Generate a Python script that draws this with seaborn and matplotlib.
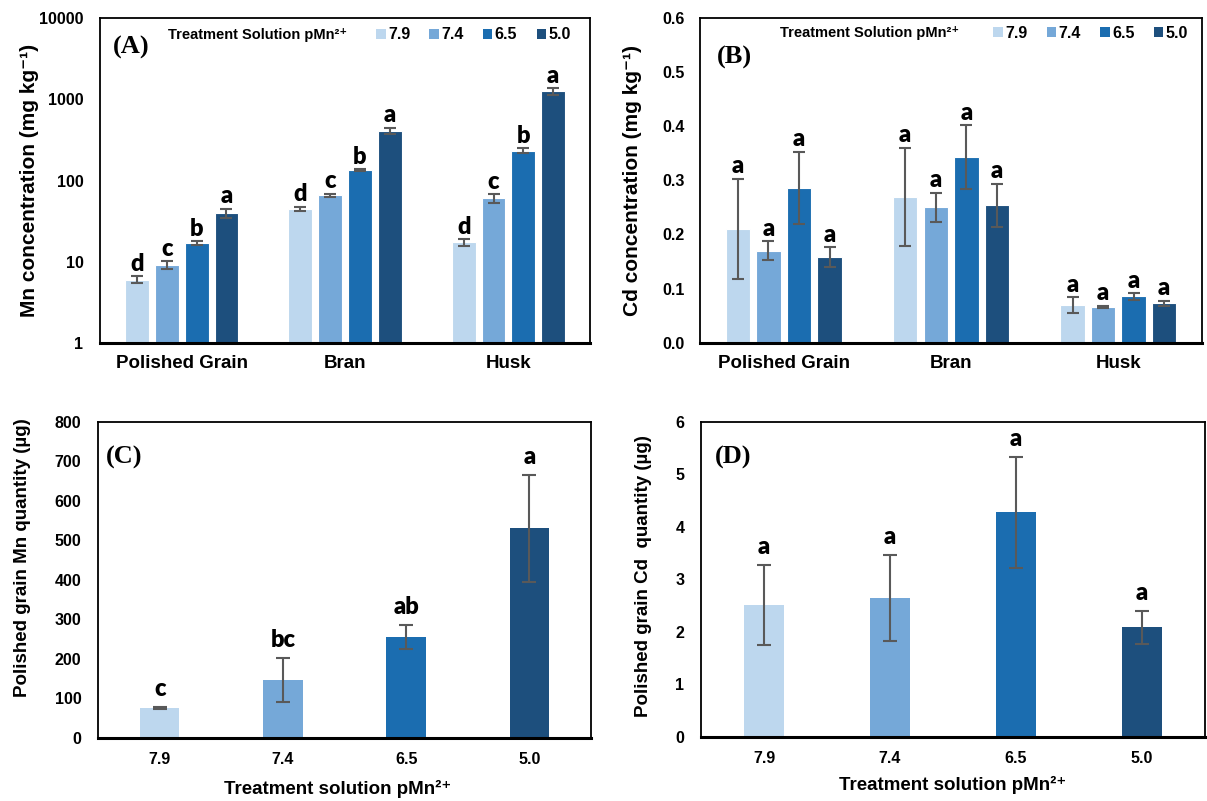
import numpy as np
import pandas as pd
import matplotlib
matplotlib.use("Agg")
import matplotlib.pyplot as plt
import seaborn as sns
from matplotlib.patches import Patch
from matplotlib.ticker import LogLocator, NullFormatter, FormatStrFormatter, MultipleLocator

# ---------------- data ----------------
tissues = ["Polished Grain", "Bran", "Husk"]
pmn = ["7.9", "7.4", "6.5", "5.0"]
colors = ["#BDD7EE", "#75A8D8", "#1B6DB0", "#1D4F7D"]

# (A) Mn concentration (mg/kg), per tissue across pMn levels
mn_pg = [6.0, 9.2, 17.0, 39.8]
mn_pg_sd = [0.6, 1.0, 0.8, 5.0]
mn_bran = [44.7, 65.8, 135.0, 409.0]
mn_bran_sd = [3.0, 3.0, 3.0, 40.0]
mn_husk = [17.3, 60.4, 233.0, 1250.0]
mn_husk_sd = [1.8, 7.0, 15.0, 110.0]
mn_letters = [["d", "c", "b", "a"], ["d", "c", "b", "a"], ["d", "c", "b", "a"]]

# (B) Cd concentration (mg/kg)
cd_pg = [0.210, 0.170, 0.286, 0.158]
cd_pg_sd = [0.093, 0.018, 0.067, 0.019]
cd_bran = [0.269, 0.250, 0.343, 0.254]
cd_bran_sd = [0.091, 0.027, 0.059, 0.040]
cd_husk = [0.0695, 0.0665, 0.0855, 0.0726]
cd_husk_sd = [0.014, 0.002, 0.006, 0.005]
cd_letters = [["a"] * 4, ["a"] * 4, ["a"] * 4]

# (C) polished grain Mn quantity (ug)
grain_mn = [76, 147, 256, 531]
grain_mn_sd = [3, 55, 30, 135]
grain_mn_letters = ["c", "bc", "ab", "a"]

# (D) polished grain Cd quantity (ug)
grain_cd = [2.51, 2.64, 4.28, 2.09]
grain_cd_sd = [0.765, 0.82, 1.06, 0.31]
grain_cd_letters = ["a", "a", "a", "a"]

# ---------------- style ----------------
sns.set_theme(style="white")
plt.rcParams["font.family"] = ["Liberation Sans", "DejaVu Sans"]
plt.rcParams["font.weight"] = "bold"
for key in ("text.color", "axes.labelcolor", "xtick.color", "ytick.color"):
    plt.rcParams[key] = "black"

ERR_COLOR = "#595959"
LETTER_FONT = dict(family=["Lato", "DejaVu Sans"], weight="heavy", size=17, color="black")

fig = plt.figure(figsize=(12.07, 8.01), dpi=100)
axA = fig.add_axes([0.0829, 0.5718, 0.4060, 0.4057])
axB = fig.add_axes([0.5800, 0.5722, 0.4159, 0.4053])
axC = fig.add_axes([0.0812, 0.0787, 0.4085, 0.3945])
axD = fig.add_axes([0.5808, 0.0799, 0.4176, 0.3933])


def long_df(series, sds, letters):
    rows = []
    for t, vals, s, l in zip(tissues, series, sds, letters):
        for p, v, e, lab in zip(pmn, vals, s, l):
            rows.append(dict(tissue=t, pMn=p, value=v, sd=e, letter=lab))
    return pd.DataFrame(rows)


def style_spines(ax):
    for side in ["top", "right", "left"]:
        ax.spines[side].set_linewidth(1.3)
        ax.spines[side].set_color("black")
    ax.spines["bottom"].set_linewidth(2.2)
    ax.spines["bottom"].set_color("black")


def grouped_panel(ax, df, log, letter_off, capsize):
    sns.barplot(data=df, x="tissue", y="value", hue="pMn", order=tissues,
                hue_order=pmn, palette=colors, width=0.73, gap=0.2,
                errorbar=None, legend=False, ax=ax, edgecolor="white",
                linewidth=0.8, log_scale=(True if log else None), saturation=1)
    conts = list(ax.containers)
    for i, cont in enumerate(conts):
        sub = df[df.pMn == pmn[i]].set_index("tissue").loc[tissues]
        for bar, (t, row) in zip(cont, sub.iterrows()):
            x = bar.get_x() + bar.get_width() / 2
            ax.errorbar(x, row.value, yerr=row.sd, color=ERR_COLOR, lw=1.5,
                        capsize=capsize, capthick=1.5, fmt="none", zorder=5)
            ax.annotate(row.letter, (x, row.value + row.sd), xytext=(0, letter_off),
                        textcoords="offset points", ha="center", va="bottom",
                        **LETTER_FONT)
    ax.set_xlim(-0.5, 2.5)
    ax.set_xlabel("")
    ax.tick_params(axis="x", length=0, pad=9, labelsize=13.5)
    style_spines(ax)


def single_panel(ax, values, sds, letters, letter_off):
    df = pd.DataFrame(dict(pMn=pmn, value=values, sd=sds, letter=letters))
    sns.barplot(data=df, x="pMn", y="value", hue="pMn", order=pmn, hue_order=pmn,
                palette=colors, width=0.32, errorbar=None, legend=False, ax=ax,
                saturation=1, linewidth=0)
    bars = list(ax.patches)
    for bar, (_, row) in zip(bars, df.iterrows()):
        x = bar.get_x() + bar.get_width() / 2
        ax.errorbar(x, row.value, yerr=row.sd, color=ERR_COLOR, lw=1.5,
                    capsize=5, capthick=1.5, fmt="none", zorder=5)
        ax.annotate(row.letter, (x, row.value + row.sd), xytext=(0, letter_off),
                    textcoords="offset points", ha="center", va="bottom",
                    **LETTER_FONT)
    ax.set_xlim(-0.5, 3.5)
    ax.tick_params(axis="x", length=0, pad=10, labelsize=11.5)
    ax.tick_params(axis="y", direction="out", length=3, width=1, pad=9, labelsize=11.5)
    style_spines(ax)


# ---------------- (A) ----------------
dfA = long_df([mn_pg, mn_bran, mn_husk], [mn_pg_sd, mn_bran_sd, mn_husk_sd], mn_letters)
grouped_panel(axA, dfA, True, 1, 4.5)
axA.set_yscale("log")
axA.set_ylim(1, 10000)
axA.set_yticks([1, 10, 100, 1000, 10000])
axA.set_yticklabels(["1", "10", "100", "1000", "10000"])
axA.yaxis.set_minor_locator(LogLocator(base=10, subs=np.arange(2, 10)))
axA.yaxis.set_minor_formatter(NullFormatter())
axA.tick_params(axis="y", which="major", direction="in", length=4, width=1, pad=12, labelsize=11.5)
axA.tick_params(axis="y", which="minor", direction="in", length=2.5, width=0.8)
axA.set_ylabel("Mn concentration (mg kg⁻¹)", fontsize=15, fontweight="bold")
axA.yaxis.label.set_va("center")
axA.yaxis.set_label_coords(-0.145, 0.5)

# ---------------- (B) ----------------
dfB = long_df([cd_pg, cd_bran, cd_husk], [cd_pg_sd, cd_bran_sd, cd_husk_sd], cd_letters)
grouped_panel(axB, dfB, False, 1, 4.5)
axB.set_ylim(0, 0.6)
axB.yaxis.set_major_locator(MultipleLocator(0.1))
axB.yaxis.set_major_formatter(FormatStrFormatter("%.1f"))
axB.tick_params(axis="y", direction="in", length=4, width=1, pad=11, labelsize=11.5)
axB.set_ylabel("Cd concentration (mg kg⁻¹)", fontsize=15, fontweight="bold")
axB.yaxis.label.set_va("center")
axB.yaxis.set_label_coords(-0.135, 0.5)

# ---------------- (C) ----------------
single_panel(axC, grain_mn, grain_mn_sd, grain_mn_letters, 5)
axC.set_ylim(0, 800)
axC.yaxis.set_major_locator(MultipleLocator(100))
axC.set_ylabel("Polished grain Mn quantity (µg)", fontsize=13.5, fontweight="bold")
axC.yaxis.label.set_va("center")
axC.yaxis.set_label_coords(-0.154, 0.571)
axC.set_xlabel("Treatment solution pMn²⁺", fontsize=13.5, fontweight="bold")
axC.xaxis.label.set_va("center")
axC.xaxis.set_label_coords(0.486, -0.162)

# ---------------- (D) ----------------
single_panel(axD, grain_cd, grain_cd_sd, grain_cd_letters, 5)
axD.set_ylim(0, 6)
axD.yaxis.set_major_locator(MultipleLocator(1))
axD.set_ylabel("Polished grain Cd  quantity (µg)", fontsize=13.5, fontweight="bold")
axD.yaxis.label.set_va("center")
axD.yaxis.set_label_coords(-0.115, 0.511)
axD.set_xlabel("Treatment solution pMn²⁺", fontsize=13.5, fontweight="bold")
axD.xaxis.label.set_va("center")
axD.xaxis.set_label_coords(0.5, -0.152)

for ax in (axA, axB, axC, axD):
    for lab in ax.get_xticklabels() + ax.get_yticklabels():
        lab.set_fontweight("bold")

# panel letters
serif = dict(family=["Liberation Serif", "DejaVu Serif"], weight="bold", size=19)
axA.text(0.027, 0.91, "(A)", transform=axA.transAxes, va="center", ha="left", **serif)
axB.text(0.034, 0.88, "(B)", transform=axB.transAxes, va="center", ha="left", **serif)
axC.text(0.016, 0.889, "(C)", transform=axC.transAxes, va="center", ha="left", **serif)
axD.text(0.028, 0.886, "(D)", transform=axD.transAxes, va="center", ha="left", **serif)

# legends (title to the left of the entries)
handles = [Patch(facecolor=c, edgecolor="none") for c in colors]
for ax, tx, lx, ly in ((axA, 0.139, 0.563, 0.948), (axB, 0.159, 0.584, 0.953)):
    ax.text(tx, ly, "Treatment Solution pMn²⁺", transform=ax.transAxes,
            va="center", ha="left", fontsize=10.5, fontweight="bold")
    ax.legend(handles, pmn, ncol=4, loc="center left", bbox_to_anchor=(lx, ly),
              frameon=False, handlelength=0.6, handleheight=0.6, handletextpad=0.15,
              columnspacing=1.2, borderpad=0, borderaxespad=0,
              prop=dict(weight="bold", size=11.5))

fig.savefig("out.png", dpi=100)
